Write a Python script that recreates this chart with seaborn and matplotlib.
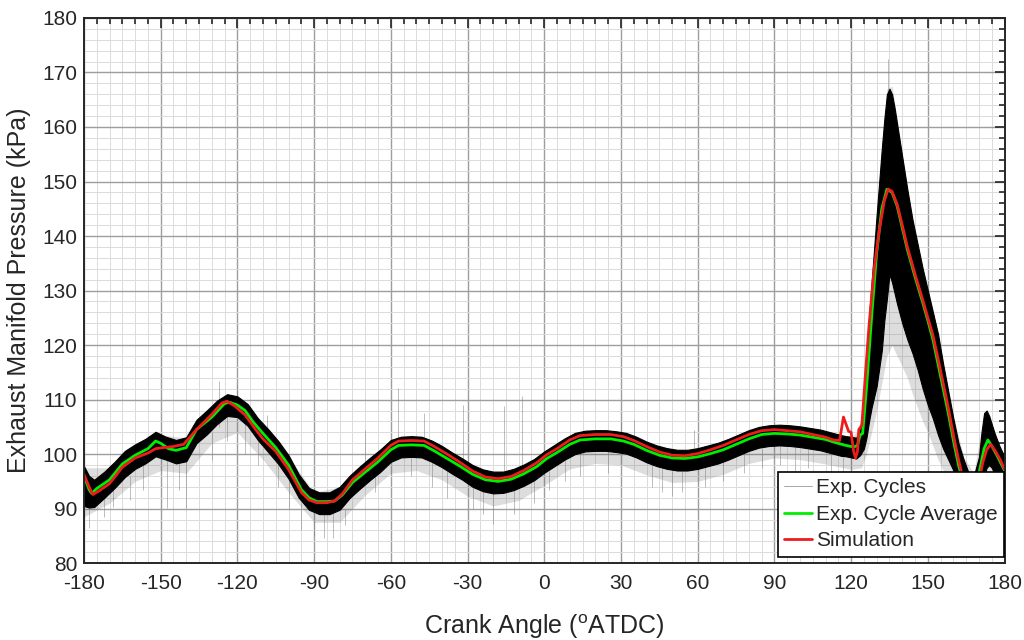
import numpy as np
import pandas as pd
import matplotlib
matplotlib.use("Agg")
import matplotlib.pyplot as plt
from matplotlib.lines import Line2D
from matplotlib.ticker import MultipleLocator
import seaborn as sns

# ---------------- data ----------------
avg_x = [-180, -178, -177, -175, -170, -165, -160, -155, -152, -150, -147, -144, -140, -136,
         -130, -125, -123, -120, -117, -114, -110, -105, -100, -95, -92, -89, -85, -82, -79,
         -75, -70, -65, -60, -57, -52, -47, -43, -38, -33, -28, -23, -18, -13, -8, -3, 1, 5,
         10, 14, 20, 26, 31, 35, 40, 45, 50, 55, 60, 65, 70, 75, 80, 85, 90, 95, 100, 105,
         110, 114, 118, 121, 122.5, 123.5, 124.5, 126, 128, 130, 132, 134, 136, 138, 140,
         142, 145, 148, 150, 152, 154, 156, 158, 160, 162, 164, 166, 168, 170, 172, 173.5,
         175, 177, 180]
avg_y = [96.0, 93.5, 92.8, 93.7, 95.3, 98.2, 99.8, 101.0, 102.4, 102.0, 101.0, 100.7, 101.2,
         104.5, 106.8, 109.3, 109.5, 109.0, 108.0, 106.0, 103.8, 101.2, 98.0, 93.5, 92.0, 91.3,
         91.3, 91.4, 92.5, 94.8, 96.7, 98.6, 100.8, 101.6, 101.7, 101.6, 100.6, 99.2, 97.8,
         96.3, 95.3, 95.0, 95.4, 96.4, 97.7, 99.2, 100.3, 101.8, 102.6, 102.8, 102.8, 102.4,
         101.8, 100.7, 99.8, 99.3, 99.2, 99.5, 100.1, 100.8, 101.8, 102.8, 103.6, 103.8,
         103.7, 103.5, 103.1, 102.7, 102.1, 101.6, 101.3, 101.6, 103.5, 103.8, 112.0, 125.0,
         137.0, 145.0, 148.6, 148.0, 145.5, 141.5, 137.5, 132.5, 127.8, 124.5, 121.0, 116.5,
         112.0, 107.5, 102.5, 98.0, 94.5, 91.5, 92.0, 96.5, 101.0, 102.6, 101.5, 99.8, 97.0]

sim_x = [-180, -178, -176.5, -174, -170, -165, -160, -155, -152, -149, -145, -141, -136,
         -130, -126, -124, -121, -117, -113, -110, -105, -100, -95, -92, -89, -85, -82, -79,
         -75, -70, -65, -60, -57, -52, -47, -43, -38, -33, -28, -23, -18, -13, -8, -3, 1, 5,
         10, 14, 20, 26, 31, 35, 40, 45, 50, 55, 60, 65, 70, 75, 80, 85, 90, 95, 100, 105,
         110, 113, 115.5, 117, 118, 119, 120, 121, 121.7, 122.5, 123, 124.2, 125.5, 127, 129,
         131, 133, 134.5, 136, 138, 140, 142, 145, 148, 150, 152, 154, 156, 158, 160, 162,
         164, 166, 168, 170, 171.5, 173, 174.5, 176.5, 178.5, 180]
sim_y = [96.3, 94.0, 92.6, 93.3, 94.6, 97.6, 99.3, 100.2, 101.0, 101.2, 101.4, 101.8, 104.5,
         107.3, 109.4, 109.7, 108.8, 107.2, 104.6, 102.8, 100.5, 97.2, 93.0, 91.6, 91.1, 91.1,
         91.4, 92.7, 95.3, 97.3, 99.3, 101.6, 102.4, 102.5, 102.4, 101.4, 100.0, 98.5, 96.9,
         95.8, 95.5, 95.9, 97.0, 98.4, 99.9, 101.0, 102.6, 103.4, 103.6, 103.6, 103.2, 102.5,
         101.4, 100.4, 99.8, 99.7, 100.1, 100.8, 101.6, 102.6, 103.6, 104.3, 104.5, 104.3,
         104.1, 103.6, 103.1, 102.6, 102.5, 106.8, 105.5, 104.2, 104.0, 100.5, 99.3, 100.5,
         104.5, 105.3, 114.0, 123.5, 134.0, 141.0, 146.5, 148.6, 148.2, 145.8, 142.0, 138.0,
         133.0, 128.3, 125.0, 121.8, 117.5, 113.0, 108.5, 103.5, 99.0, 95.0, 92.0, 91.5, 95.0,
         98.5, 100.8, 101.8, 100.5, 98.8, 97.2]

band_x = [-180, -178, -176, -172, -168, -164, -160, -156, -152, -148, -144, -140, -136, -132,
          -128, -124, -120, -116, -112, -108, -104, -100, -96, -92, -88, -84, -80, -76, -72,
          -68, -64, -60, -56, -52, -48, -44, -40, -36, -32, -28, -24, -20, -16, -12, -8, -4,
          0, 4, 8, 12, 16, 20, 24, 28, 32, 36, 40, 44, 48, 52, 56, 60, 64, 68, 72, 76, 80, 84,
          88, 92, 96, 100, 104, 108, 112, 116, 118, 120, 122, 123.5, 125, 126, 127, 128, 130,
          132, 133, 134, 135, 136, 137, 138, 140, 142, 144, 146, 148, 150, 152, 154, 156, 158,
          160, 162, 164, 166, 168, 170, 171, 172, 173, 174, 175, 176, 178, 180]
band_hi = [97.8, 96.0, 95.3, 96.8, 98.6, 100.6, 101.8, 102.8, 104.1, 103.2, 102.6, 103.1, 106.3,
           108.0, 109.8, 111.0, 110.6, 109.2, 106.6, 104.6, 102.4, 99.8, 96.3, 93.8, 93.0, 93.0,
           94.0, 96.1, 97.8, 99.4, 100.9, 102.6, 103.2, 103.3, 103.2, 102.5, 101.5, 100.3, 99.2,
           98.0, 97.2, 96.8, 96.8, 97.3, 98.1, 99.1, 100.5, 101.7, 102.9, 103.9, 104.3, 104.4,
           104.4, 104.2, 103.9, 103.2, 102.3, 101.6, 101.1, 100.8, 100.8, 101.1, 101.6, 102.1,
           102.8, 103.6, 104.4, 105.0, 105.3, 105.4, 105.3, 105.1, 104.8, 104.5, 104.0, 103.5,
           103.3, 103.2, 103.0, 104.6, 110.0, 118.5, 125.0, 131.5, 144.0, 156.0, 161.5, 166.0,
           167.0, 166.0, 163.5, 160.5, 154.5, 148.5, 143.0, 138.5, 134.0, 130.0, 126.0, 122.0,
           116.5, 111.5, 106.5, 102.0, 99.0, 96.5, 96.0, 99.5, 104.0, 107.5, 108.0, 107.0,
           105.5, 104.0, 101.5, 99.5]
band_lo = [90.5, 90.2, 90.3, 92.0, 93.8, 95.8, 97.3, 98.3, 99.6, 99.0, 98.3, 98.7, 102.0, 103.6,
           105.5, 107.0, 106.8, 105.2, 102.6, 100.4, 98.2, 95.5, 92.0, 89.8, 89.0, 89.0, 89.8,
           92.0, 93.7, 95.3, 96.8, 98.6, 99.4, 99.5, 99.4, 98.6, 97.6, 96.4, 95.3, 94.0, 93.2,
           92.8, 92.9, 93.4, 94.2, 95.2, 96.6, 97.8, 99.0, 100.0, 100.5, 100.6, 100.6, 100.4,
           100.1, 99.4, 98.5, 97.8, 97.3, 97.0, 97.0, 97.3, 97.8, 98.3, 99.0, 99.8, 100.6,
           101.2, 101.5, 101.6, 101.5, 101.3, 101.0, 100.7, 100.2, 99.7, 99.6, 99.4, 99.2, 99.8,
           101.0, 103.0, 106.0, 108.5, 112.5, 119.0, 124.5, 128.5, 133.0, 131.5, 129.5, 127.5,
           124.0, 121.0, 118.5, 115.5, 112.0, 109.0, 106.5, 103.5, 101.0, 99.0, 97.0, 94.5,
           91.0, 88.0, 88.0, 92.0, 94.0, 96.0, 97.5, 98.0, 97.5, 96.5, 95.0, 93.0]

# faint outer spread of the experimental cycles (mostly below the dense band)
haze_x = [-180, -170, -160, -150, -140, -130, -120, -110, -100, -90, -80, -70, -60, -50, -40,
          -30, -20, -10, 0, 10, 20, 30, 40, 50, 60, 70, 80, 90, 100, 110, 120, 124, 126, 128,
          130, 132, 134, 136, 138, 140, 142, 144, 146, 148, 150, 152, 154, 156, 158, 160, 164,
          168, 172, 176, 180]
haze_lo = [88.5, 91.0, 95.0, 97.0, 96.5, 102.0, 104.0, 99.0, 93.0, 87.5, 87.5, 92.5, 96.5,
           97.0, 95.3, 92.3, 90.5, 91.5, 94.3, 97.3, 98.3, 98.0, 96.2, 94.8, 95.0, 96.3, 98.3,
           99.3, 99.0, 98.2, 97.2, 97.5, 100.0, 104.0, 108.0, 113.0, 118.0, 120.0, 118.0,
           116.0, 114.0, 111.0, 108.5, 106.0, 104.0, 101.5, 99.0, 97.0, 95.0, 93.0, 88.0, 86.0,
           92.0, 93.0, 91.0]
haze_hi = [97.5, 97.5, 101.5, 103.5, 103.0, 108.5, 110.5, 105.0, 99.5, 93.0, 94.0, 98.5,
           102.5, 103.0, 101.3, 98.5, 96.6, 97.5, 100.3, 103.2, 104.2, 104.0, 102.1, 100.6,
           100.9, 102.3, 104.2, 105.2, 104.9, 104.1, 103.0, 105.0, 118.0, 131.0, 144.0, 157.0,
           167.0, 167.5, 161.5, 155.0, 149.0, 143.5, 139.0, 134.5, 130.5, 126.5, 122.0, 117.0,
           112.0, 107.0, 99.5, 96.5, 108.0, 104.0, 99.5]

# isolated cycle excursions (thin grey spikes): angle, low end, high end
spike_x = [-178, -172, -168.5, -162, -157, -147.6, -143, -140, -130, -127, -124, -120.3, -117,
           -112, -108.5, -104, -100, -95, -90, -86, -82.5, -78, -70, -66, -57, -52, -47.2, -44,
           -38, -31.6, -28, -24, -19.9, -15.9, -12, -8.7, -4, 2, 8, 14, 25, 30, 34.9, 42, 46,
           50, 54, 58.4, 63, 70, 78, 85, 92, 98, 103, 108, 112, 117, 120, 134.3]
spike_lo = [86.5, 88.5, 90.3, 91.5, 93.5, 90.2, 93.5, 90.2, 99.0, 105.0, 102.4, 110.0, 100.0,
            98.0, 104.0, 94.0, 90.0, 86.0, 85.0, 84.7, 84.7, 87.0, 97.5, 93.0, 103.0, 96.0,
            103.0, 94.0, 92.0, 98.0, 90.0, 89.0, 87.2, 97.0, 89.0, 97.0, 91.0, 93.5, 95.0,
            96.0, 96.5, 103.5, 103.0, 94.0, 93.0, 92.3, 93.0, 100.5, 94.0, 95.0, 96.5, 97.5,
            98.0, 97.0, 97.5, 104.5, 96.5, 96.0, 95.5, 165.0]
spike_hi = [91.0, 93.0, 94.0, 96.0, 98.0, 99.0, 99.0, 99.0, 104.0, 113.5, 108.0, 112.7, 106.0,
            104.0, 107.2, 99.0, 95.0, 91.0, 89.0, 89.0, 89.5, 90.0, 104.5, 97.0, 112.1, 99.5,
            107.5, 98.5, 97.0, 109.0, 94.0, 93.5, 93.0, 108.8, 93.5, 110.6, 95.0, 97.0, 99.0,
            100.5, 100.5, 106.0, 106.3, 98.5, 97.5, 97.0, 97.0, 104.5, 97.8, 99.0, 100.0, 101.0,
            101.5, 101.5, 101.0, 110.0, 100.0, 99.5, 99.4, 172.5]

x_ticks = [-180, -150, -120, -90, -60, -30, 0, 30, 60, 90, 120, 150, 180]
y_ticks = [80, 90, 100, 110, 120, 130, 140, 150, 160, 170, 180]
legend_labels = ["Exp. Cycles", "Exp. Cycle Average", "Simulation"]

# ---------------- styling ----------------
sns.set_theme(style="white")
plt.rcParams["font.family"] = ["Liberation Sans", "DejaVu Sans"]
plt.rcParams["mathtext.fontset"] = "custom"
plt.rcParams["mathtext.rm"] = "Liberation Sans"
plt.rcParams["mathtext.it"] = "Liberation Sans"
plt.rcParams["axes.unicode_minus"] = False

text_col = "#262626"

fig, ax = plt.subplots(figsize=(10.24, 6.4), dpi=100)
fig.subplots_adjust(left=0.082, right=0.981, bottom=0.12, top=0.972)

# experimental cycles: faint spread, spikes, dense band
ax.fill_between(haze_x, haze_lo, haze_hi, color="0.4", alpha=0.22, linewidth=0, zorder=2)
ax.vlines(spike_x, spike_lo, spike_hi, colors="0.5", linewidth=0.6, alpha=0.6, zorder=2)
ax.fill_between(band_x, band_lo, band_hi, color="black", linewidth=0.8, edgecolor="black",
                zorder=3)

avg_df = pd.DataFrame({"angle": avg_x, "p": avg_y})
sim_df = pd.DataFrame({"angle": sim_x, "p": sim_y})
sns.lineplot(data=avg_df, x="angle", y="p", ax=ax, color="#00ee00", linewidth=2.0,
             sort=False, zorder=4)
sns.lineplot(data=sim_df, x="angle", y="p", ax=ax, color="#ee1c1c", linewidth=2.0,
             sort=False, zorder=5)

ax.set_xlim(-180, 180)
ax.set_ylim(80, 180)
ax.set_xticks(x_ticks)
ax.set_yticks(y_ticks)
ax.xaxis.set_minor_locator(MultipleLocator(5))
ax.yaxis.set_minor_locator(MultipleLocator(2))

ax.grid(which="major", color="0.62", linewidth=1.0, zorder=0)
ax.grid(which="minor", color="0.86", linewidth=0.7, zorder=0)
ax.set_axisbelow(True)

ax.tick_params(which="both", direction="in", top=True, right=True, colors=text_col,
               labelcolor=text_col, width=1.2)
ax.tick_params(which="major", length=7, labelsize=15)
ax.tick_params(axis="x", which="major", pad=8)
ax.tick_params(axis="y", which="major", pad=5)
ax.tick_params(which="minor", length=4)
for s in ax.spines.values():
    s.set_color(text_col)
    s.set_linewidth(1.4)
    s.set_zorder(10)

ax.set_xlabel("Crank Angle ($^{\\mathrm{o}}$ATDC)", fontsize=18, color=text_col, labelpad=14)
ax.set_ylabel("Exhaust Manifold Pressure (kPa)", fontsize=18, color=text_col, labelpad=8)

handles = [Line2D([], [], color="0.6", linewidth=0.6),
           Line2D([], [], color="#00ee00", linewidth=2.0),
           Line2D([], [], color="#ee1c1c", linewidth=2.0)]
leg = ax.legend(handles, legend_labels, loc="lower right", bbox_to_anchor=(0.999, 0.012),
                borderaxespad=0, fontsize=15, frameon=True, fancybox=False,
                edgecolor="black", facecolor="white", framealpha=1.0,
                handlelength=1.3, handletextpad=0.2, labelspacing=0.36, borderpad=0.3)
leg.get_frame().set_linewidth(1.2)
leg.set_zorder(20)
for t in leg.get_texts():
    t.set_color(text_col)

fig.savefig("out.png", dpi=100)
